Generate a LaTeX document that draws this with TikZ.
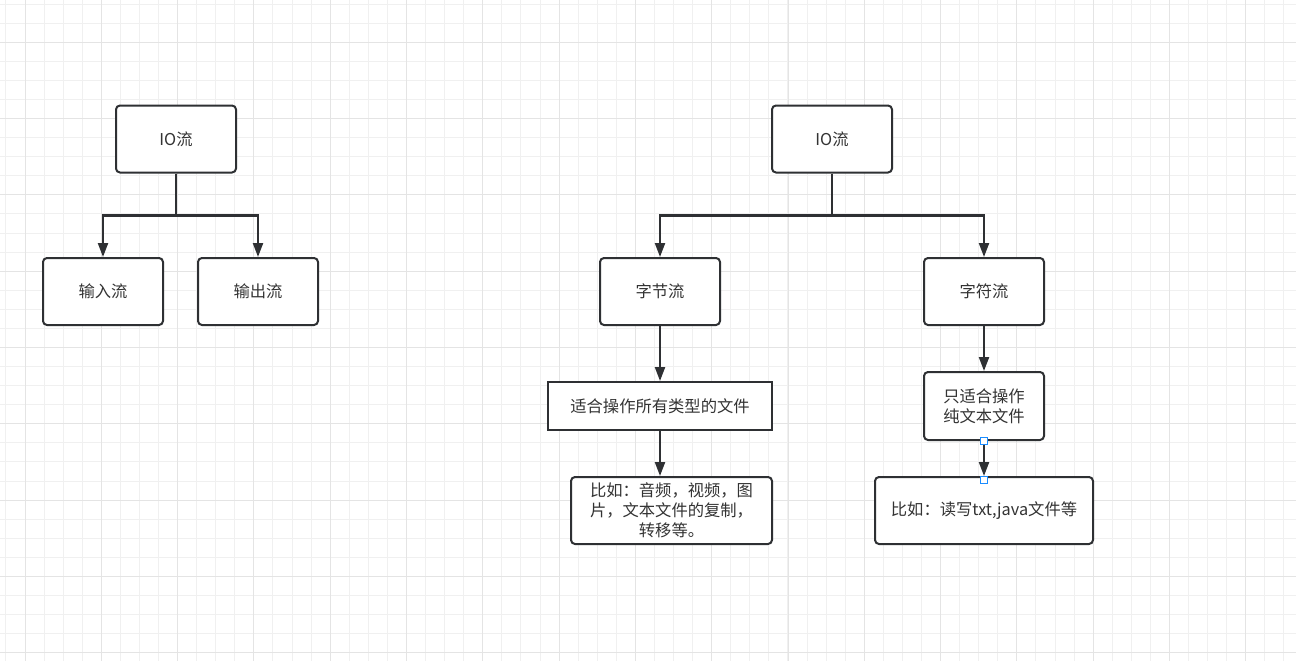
\documentclass[tikz,border=0pt]{standalone}
\usepackage{fontspec}
\setmainfont{Noto Sans CJK SC}
\usetikzlibrary{arrows.meta}
\definecolor{ink}{HTML}{2E3033}
\definecolor{txt}{HTML}{333333}
\definecolor{gminor}{HTML}{F0F0F0}
\definecolor{gmajor}{HTML}{E4E4E4}
\definecolor{handle}{HTML}{1A8CFF}
\tikzset{
  box/.style={draw=ink, line width=2pt, rounded corners=4pt, fill=white, text=txt,
    minimum width=120pt, minimum height=67pt, inner sep=2pt, align=center,
    font=\fontsize{16.3}{20}\selectfont},
  sharpbox/.style={box, rounded corners=0pt},
  arr/.style={draw=ink, line width=2.2pt, -{Triangle[length=14pt,width=10pt]}},
  hnd/.style={draw=handle, fill=white, line width=1pt, minimum size=7pt, inner sep=0pt},
}
\begin{document}
\begin{tikzpicture}[x=1pt,y=-1pt]
\useasboundingbox (0,0) rectangle (1296,661);
\fill[white] (0,0) rectangle (1296,661);
% grid minor
\foreach \i in {-1,...,68} {
  \pgfmathsetmacro{\gx}{floor(25+19.075*\i)+0.5}
  \draw[gminor, line width=1pt] (\gx,0) -- (\gx,661);
}
\foreach \i in {-2,...,34} {
  \pgfmathsetmacro{\gy}{floor(42.3+19.075*\i)+0.5}
  \draw[gminor, line width=1pt] (0,\gy) -- (1296,\gy);
}
% grid major
\foreach \i in {0,...,16} {
  \pgfmathsetmacro{\gx}{floor(25+76.3*\i)+0.5}
  \draw[gmajor, line width=1pt] (\gx,0) -- (\gx,661);
}
\foreach \i in {0,...,8} {
  \pgfmathsetmacro{\gy}{floor(42.3+76.3*\i)+0.5}
  \draw[gmajor, line width=1pt] (0,\gy) -- (1296,\gy);
}

% left tree
\node[box] (io1) at (176,139) {IO流};
\node[box] (in) at (103,291.5) {输入流};
\node[box] (out) at (258,291.5) {输出流};
\draw[arr] (io1.south) -- ++(0,42) -| (in.north);
\draw[arr] (io1.south) -- ++(0,42) -| (out.north);

% right tree
\node[box] (io2) at (832,139) {IO流};
\node[box] (byte) at (660,291.5) {字节流};
\node[box] (char) at (984,291.5) {字符流};
\draw[arr] (io2.south) -- ++(0,42) -| (byte.north);
\draw[arr] (io2.south) -- ++(0,42) -| (char.north);

\node[sharpbox, minimum width=224pt, minimum height=48pt] (all) at (660,406) {适合操作所有类型的文件};
\node[box, minimum width=201pt, minimum height=67pt] (ex1) at (671.5,510.5) {比如：音频，视频，图\\片，文本文件的复制，\\转移等。};
\draw[arr] (byte.south) -- (all.north);
\draw[arr] (all.south) -- (all.south |- ex1.north);

\node[box, minimum width=120pt, minimum height=68pt] (txtonly) at (984,406) {只适合操作\\纯文本文件};
\node[box, minimum width=218pt, minimum height=67pt] (ex2) at (984,510.5) {比如：读写txt,java文件等};
\draw[arr] (char.south) -- (txtonly.north);
\draw[arr] (txtonly.south) -- (ex2.north);
\node[hnd] (h1) at (txtonly.south) {};
\node[hnd] (h2) at ([yshift=-4pt]ex2.north) {};
\end{tikzpicture}
\end{document}
